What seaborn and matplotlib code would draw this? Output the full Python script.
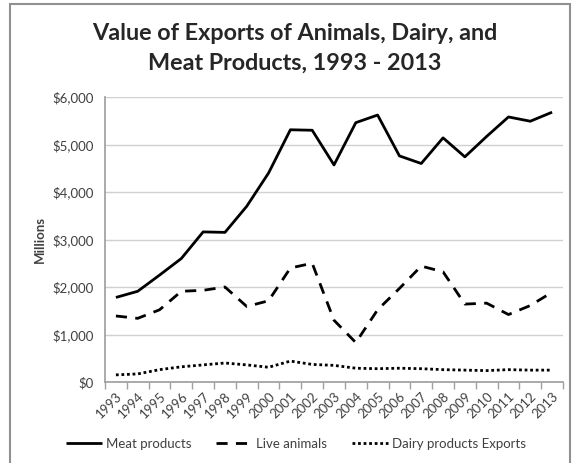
import matplotlib
matplotlib.use("Agg")
import matplotlib.pyplot as plt
import seaborn as sns
import pandas as pd
import numpy as np
from matplotlib.patches import Rectangle

years = [str(y) for y in range(1993, 2014)]
meat = [1780, 1910, 2250, 2600, 3160, 3150, 3700, 4400, 5310, 5300, 4570,
        5460, 5620, 4760, 4600, 5140, 4740, 5170, 5580, 5490, 5680]
live = [1390, 1340, 1520, 1910, 1930, 2000, 1590, 1710, 2400, 2500, 1300,
        830, 1520, 1970, 2440, 2320, 1640, 1660, 1420, 1610, 1890]
dairy = [150, 170, 260, 320, 360, 400, 360, 310, 440, 370, 350,
         290, 280, 290, 280, 260, 250, 240, 260, 250, 250]
series_names = ["Meat products", "Live animals", "Dairy products Exports"]
yticks = [0, 1000, 2000, 3000, 4000, 5000, 6000]

sns.set_theme(style="white")
plt.rcParams['font.family'] = ['Lato', 'DejaVu Sans']

df = pd.DataFrame({"Year": years * 3,
                   "Value": meat + live + dairy,
                   "Series": sum([[n] * len(years) for n in series_names], [])})
df["x"] = df.groupby("Series").cumcount()

fig = plt.figure(figsize=(5.76, 4.63), dpi=100)
ax = fig.add_axes([105/576, 1 - 382/463, 458/576, 285/463])

styles = {"Meat products": (0, ()), "Live animals": (0, (4, 3)),
          "Dairy products Exports": (0, (1, 1))}
for name in series_names:
    sub = df[df["Series"] == name]
    sns.lineplot(data=sub, x="x", y="Value", ax=ax, color="black",
                 linewidth=2.0, linestyle=styles[name], label=name)

ax.set_xlim(-0.5, len(years) - 0.5)
ax.set_ylim(0, 6000)
ax.set_yticks(yticks)
ax.set_yticklabels([f"${v:,}" for v in yticks], color="#404040", fontsize=9.5)
ax.yaxis.grid(True, color="#d0d0d0", linewidth=1)
ax.set_axisbelow(True)
ax.set_xticks(range(len(years)))
ax.set_xticklabels(years, rotation=45, ha="right", rotation_mode="anchor",
                   color="#404040", fontsize=9.5)
ax.tick_params(axis="x", length=0, pad=6)
ax.tick_params(axis="y", length=0, pad=8)
# category boundary tick marks
ax.set_xticks(np.arange(-0.5, len(years), 1), minor=True)
ax.tick_params(axis="x", which="minor", length=5, color="#a0a0a0", width=1,
               direction="out", bottom=True)
for s in ["top", "right"]:
    ax.spines[s].set_visible(False)
ax.spines["left"].set_color("#a0a0a0")
ax.spines["bottom"].set_color("#a0a0a0")
ax.set_xlabel("")
ax.set_ylabel("Millions", fontsize=9.5, fontweight="bold", color="#404040", labelpad=5)

leg = ax.legend(loc="center", ncol=3, frameon=False, fontsize=9.5,
                handlelength=2.7, columnspacing=1.9, handletextpad=0.3)
for t in leg.get_texts():
    t.set_color("#404040")
leg.set_bbox_to_anchor((296/576, 1 - 444/463), transform=fig.transFigure)

fig.text(295/576, 1 - 33/463, "Value of Exports of Animals, Dairy, and",
         ha="center", va="center", fontsize=16.8, fontweight="bold")
fig.text(295/576, 1 - 63/463, "Meat Products, 1993 - 2013",
         ha="center", va="center", fontsize=16.8, fontweight="bold")

fig.patches.append(Rectangle((10/576, -0.02), 560/576, 1 - 4/463 + 0.02,
                             transform=fig.transFigure, fill=False,
                             edgecolor="#909090", linewidth=1.5))

fig.savefig("out.png", dpi=100)
